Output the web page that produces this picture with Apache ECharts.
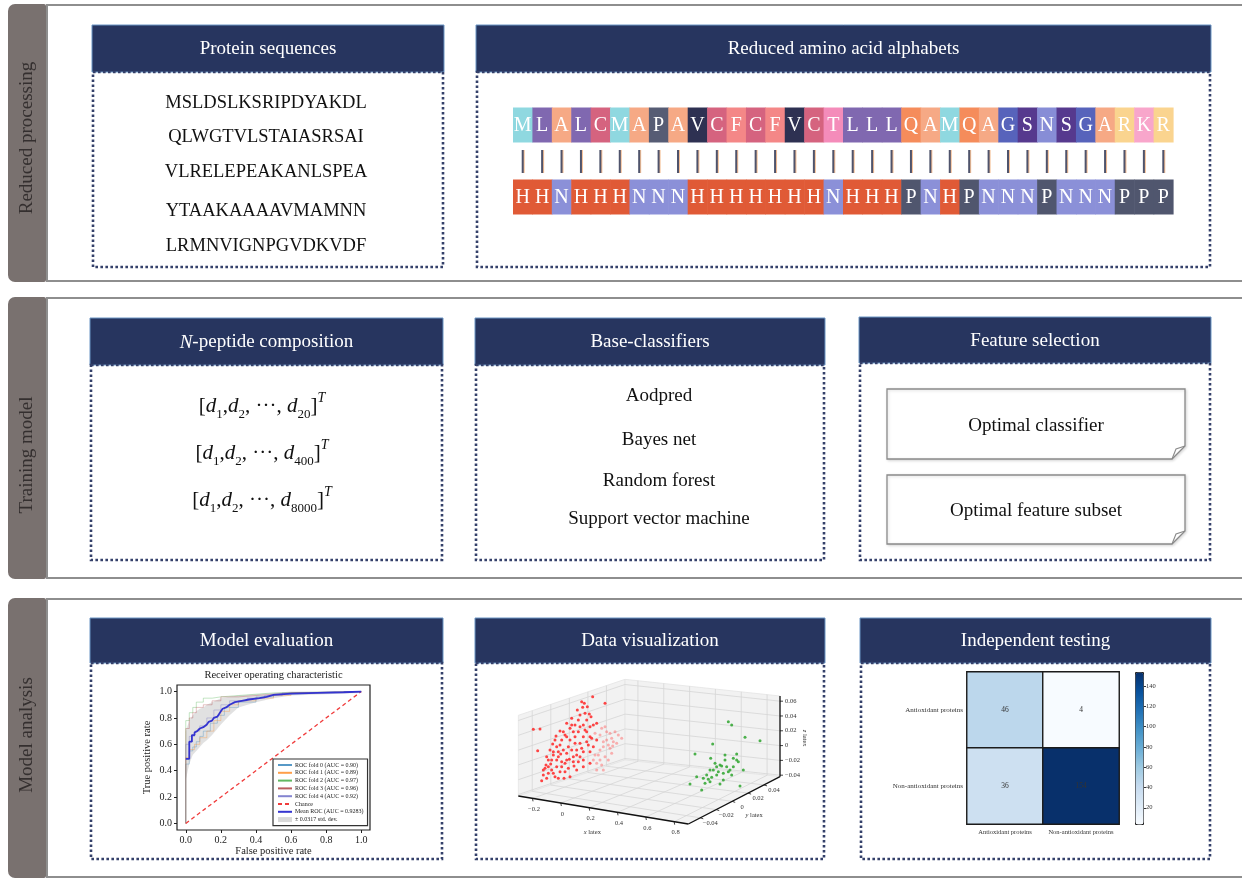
<!DOCTYPE html>
<html>
<head>
<meta charset="utf-8">
<script src="https://cdn.jsdelivr.net/npm/echarts@6/dist/echarts.min.js"></script>
<style>
  html, body { margin: 0; padding: 0; background: #fff; }
  #chart { width: 1242px; height: 879px; }
</style>
</head>
<body>
<div id="chart"></div>
<script>
const FONT = '"Liberation Serif","DejaVu Serif",serif';

// ---- text content ----
const sectionTitles = ['Reduced processing', 'Training model', 'Model analysis'];
const panelTitles = ['Protein sequences', 'Reduced amino acid alphabets', '{i|N}-peptide composition',
  'Base-classifiers', 'Feature selection', 'Model evaluation', 'Data visualization', 'Independent testing'];
const proteinSequences = ['MSLDSLKSRIPDYAKDL', 'QLWGTVLSTAIASRSAI', 'VLRELEPEAKANLSPEA', 'YTAAKAAAAVMAMNN', 'LRMNVIGNPGVDKVDF'];
const originalResidues = 'MLALCMAPAVCFCFVCTLLLQAMQAGSNSGARKR'.split('');
const reducedResidues = 'HHNHHHNNNHHHHHHHNHHHPNHPNNNPNNNPPP'.split('');
const peptideDims = ['20', '400', '8000'];
const baseClassifiers = ['Aodpred', 'Bayes net', 'Random forest', 'Support vector machine'];
const featureSelection = ['Optimal classifier', 'Optimal feature subset'];

// ---- ROC curves (5-fold CV) ----
const rocFoldAuc = [0.90, 0.89, 0.97, 0.96, 0.92];
const rocFold0 = [[0,0],[0,0.35],[0.02,0.45],[0.04,0.55],[0.06,0.58],[0.08,0.62],[0.1,0.66],[0.14,0.7],[0.18,0.76],[0.22,0.82],[0.3,0.88],[0.4,0.92],[0.5,0.96],[0.6,0.98],[0.8,0.99],[1,1]];
const rocFold1 = [[0,0],[0,0.4],[0.02,0.5],[0.05,0.56],[0.08,0.6],[0.12,0.65],[0.16,0.7],[0.2,0.78],[0.25,0.85],[0.3,0.9],[0.4,0.93],[0.5,0.95],[0.6,0.97],[0.75,0.99],[1,1]];
const rocFold2 = [[0,0],[0,0.68],[0.02,0.78],[0.04,0.84],[0.06,0.88],[0.1,0.92],[0.15,0.95],[0.2,0.96],[0.3,0.97],[0.4,0.98],[0.5,0.99],[1,1]];
const rocFold3 = [[0,0],[0,0.6],[0.02,0.72],[0.04,0.8],[0.06,0.84],[0.1,0.88],[0.15,0.9],[0.2,0.93],[0.3,0.96],[0.4,0.97],[0.5,0.98],[0.6,0.99],[1,1]];
const rocFold4 = [[0,0],[0,0.5],[0.02,0.6],[0.05,0.66],[0.08,0.7],[0.12,0.74],[0.16,0.8],[0.2,0.86],[0.25,0.9],[0.35,0.93],[0.45,0.95],[0.55,0.97],[0.7,0.99],[1,1]];
const rocMeanAuc = 0.9283;
const rocStd = 0.0317;
const rocMean = [[0,0.49],[0.02,0.49],[0.02,0.62],[0.035,0.62],[0.035,0.67],[0.05,0.67],[0.05,0.69],[0.065,0.70],[0.08,0.72],[0.1,0.73],[0.12,0.75],[0.13,0.77],[0.15,0.78],[0.16,0.80],[0.18,0.81],[0.19,0.83],[0.2,0.85],[0.21,0.87],[0.23,0.88],[0.25,0.9],[0.28,0.92],[0.32,0.93],[0.36,0.94],[0.42,0.95],[0.46,0.96],[0.5,0.975],[0.6,0.985],[0.75,0.99],[0.9,0.995],[1,1]];
const rocChance = [[0,0],[1,1]];
const rocBandX =     [0,    0.02, 0.04, 0.06, 0.08, 0.1,  0.12, 0.15, 0.2,  0.25, 0.3,  0.4,  0.5,  0.6,  0.8,  1];
const rocBandUpper = [0.70, 0.78, 0.82, 0.85, 0.87, 0.88, 0.90, 0.92, 0.95, 0.96, 0.97, 0.98, 0.99, 1,    1,    1];
const rocBandLower = [0.33, 0.45, 0.52, 0.55, 0.58, 0.61, 0.63, 0.67, 0.75, 0.82, 0.88, 0.92, 0.95, 0.97, 0.98, 0.99];
const rocTicks = [0, 0.2, 0.4, 0.6, 0.8, 1.0];

// ---- 3D embedding (projected panel coordinates) ----
const scatterXTicks = [-0.2, 0, 0.2, 0.4, 0.6, 0.8];
const scatterYTicks = [-0.04, -0.02, 0, 0.02, 0.04];
const scatterZTicks = [-0.04, -0.02, 0, 0.02, 0.04, 0.06];
const antioxidantNear = [[130,208],[150,207],[143,272],[155,362],[160,345],[165,325],[175,320],[185,300],[190,275],[170,355],[195,350],[210,335],[225,310],[230,300],[250,290],[260,270],[270,250],[280,230],[290,215],[300,200],[310,195],[320,190],[235,260],[240,240],[255,230],[265,215],[280,195],[290,180],[270,165],[285,160],[303,170],[298,162],[250,215],[220,270],[205,290],[200,300],[215,305],[230,280],[245,270],[185,330],[200,320],[215,320],[175,300],[190,285],[205,275],[210,255],[230,230],[220,215],[210,213],[240,205],[255,250],[270,290],[280,300],[300,275],[310,260],[320,240],[305,235],[290,245],[275,265],[260,285],[250,305],[235,325],[225,335],[240,350],[260,330],[280,320],[300,310],[195,240],[180,270],[170,290],[160,330],[175,340],[255,195],[270,200],[285,210],[300,230],[295,255],[280,275],[265,305],[275,125],[283,130],[308,110],[345,130],[265,180],[245,195],[225,225],[215,240],[200,260],[245,175],[230,190],[262,150],[292,140],[278,142],[188,252],[198,228],[168,315],[182,312],[212,282],[238,298],[252,318],[222,355],[190,340],[205,355]];
const antioxidantFar = [[335,205],[345,200],[350,215],[360,220],[375,215],[385,225],[395,235],[370,245],[355,255],[340,260],[330,270],[315,285],[330,300],[320,310],[335,315],[345,290],[360,265],[365,280],[380,250],[350,240],[365,235],[340,245],[330,225],[315,220],[325,285],[310,300],[355,300],[340,330],[320,330],[368,258]];
const nonAntioxidant = [[715,185],[725,195],[765,232],[810,242],[668,252],[615,282],[740,282],[662,295],[705,300],[690,315],[680,320],[695,318],[745,305],[660,330],[670,330],[650,345],[640,355],[655,358],[665,352],[680,345],[700,340],[715,335],[730,320],[725,345],[760,330],[645,370],[635,390],[600,372],[690,372],[700,360],[750,378],[740,300],[720,330],[675,310],[685,335],[710,320],[730,295],[660,365],[620,350],[705,285]];

// ---- independent test confusion matrix ----
const confusionLabels = ['Antioxidant proteins', 'Non-antioxidant proteins'];
const confusionMatrix = [[46, 4], [36, 154]];
const colorbarTicks = [20, 40, 60, 80, 100, 120, 140];

// ---- styles ----
const residueColors = { M:'#8fd8e0', L:'#8068b0', A:'#f6a985', C:'#d5637f', P:'#565c74', V:'#2e3152', F:'#f48787',
  T:'#f48cba', Q:'#f58c5b', G:'#5763bb', S:'#56398e', N:'#878dd6', R:'#fad48f', K:'#f8a6cb' };
const reducedColors = { H:'#e05a36', N:'#8b90d8', P:'#50566e' };
const blues = ['#f7fbff','#deebf7','#c6dbef','#9ecae1','#6baed6','#4292c6','#2171b5','#08519c','#08306b'];
const foldColors = ['#1f77b4', '#ff7f0e', '#2ca02c', '#a3282a', '#5b5bc0'];

// projection of the 3D box into panel units
const cubeRange = { x: [-0.3, 0.9], y: [-0.055, 0.06], z: [-0.042, 0.067] };
const cubeCorners = { fl: [85, 408], fr: [595, 492], bl: [405, 300], br: [870, 350], h: 242 };
function lerp(a, b, t) { return [a[0] + (b[0] - a[0]) * t, a[1] + (b[1] - a[1]) * t]; }
function proj3(x, y, z) {
  const u = (x - cubeRange.x[0]) / (cubeRange.x[1] - cubeRange.x[0]);
  const v = (y - cubeRange.y[0]) / (cubeRange.y[1] - cubeRange.y[0]);
  const w = (z - cubeRange.z[0]) / (cubeRange.z[1] - cubeRange.z[0]);
  const front = lerp(cubeCorners.fl, cubeCorners.fr, u);
  const back = lerp(cubeCorners.bl, cubeCorners.br, u);
  const p = lerp(front, back, v);
  return [p[0], p[1] - w * cubeCorners.h];
}
const minus = v => (v < 0 ? '\u2212' : '') + Math.abs(v);

// ---- layout ----
const sections = [
  { top: 5, bottom: 281, labelY: 138 },
  { top: 298, bottom: 578, labelY: 455 },
  { top: 599, bottom: 877, labelY: 735 }
];
const panels = [
  { x0: 92, x1: 444, y0: 25, yh: 72, y1: 267 },
  { x0: 476, x1: 1211, y0: 25, yh: 72, y1: 267 },
  { x0: 90, x1: 443, y0: 318, yh: 365, y1: 560 },
  { x0: 475, x1: 825, y0: 318, yh: 365, y1: 560 },
  { x0: 859, x1: 1211, y0: 317, yh: 363, y1: 560 },
  { x0: 90, x1: 443, y0: 618, yh: 663, y1: 859 },
  { x0: 475, x1: 825, y0: 618, yh: 663, y1: 859 },
  { x0: 860, x1: 1211, y0: 618, yh: 663, y1: 859 }
];

const graphics = [];
sections.forEach((s, i) => {
  graphics.push({ type: 'rect', z: 0, shape: { x: 47, y: s.top, width: 1240, height: s.bottom - s.top },
    style: { fill: '#fff', stroke: '#8e8e8e', lineWidth: 2 } });
  graphics.push({ type: 'rect', z: 1, shape: { x: 8, y: s.top - 1, width: 38, height: s.bottom - s.top + 2, r: [7, 2, 2, 7] },
    style: { fill: '#79716f' } });
  graphics.push({ type: 'text', z: 2, x: 27, y: s.labelY, rotation: Math.PI / 2,
    style: { text: sectionTitles[i], fontSize: 19, fontFamily: FONT, fill: '#342f2f', align: 'center', verticalAlign: 'middle' } });
});
panels.forEach((p, i) => {
  graphics.push({ type: 'rect', z: 1, shape: { x: p.x0, y: p.y0, width: p.x1 - p.x0, height: p.yh - p.y0 },
    style: { fill: '#27355f', stroke: '#6b95c4', lineWidth: 1 } });
  graphics.push({ type: 'rect', z: 1, shape: { x: p.x0 + 1, y: p.yh, width: p.x1 - p.x0 - 2, height: p.y1 - p.yh },
    style: { fill: null, stroke: '#34406a', lineWidth: 2.6, lineDash: [2.6, 2.4] } });
  graphics.push({ type: 'text', z: 2, x: (p.x0 + p.x1) / 2, y: (p.y0 + p.yh) / 2 + 1,
    style: { text: panelTitles[i], fontSize: 19, fontFamily: FONT, fill: '#fff', align: 'center', verticalAlign: 'middle',
      rich: { i: { fontStyle: 'italic', fontSize: 19, fontFamily: FONT, fill: '#fff' } } } });
});
// protein sequences
const seqY = [103, 137, 172, 211, 246];
proteinSequences.forEach((s, i) => graphics.push({ type: 'text', z: 2, x: 266, y: seqY[i],
  style: { text: s, fontSize: 18.5, fontFamily: FONT, fill: '#111', align: 'center', verticalAlign: 'middle' } }));
// N-peptide composition vectors
const vecY = [406, 453, 500];
peptideDims.forEach((n, i) => graphics.push({ type: 'text', z: 2, x: 262, y: vecY[i],
  style: { text: '[{d|d}{sub|1},{d|d}{sub|2}, \u00b7\u00b7\u00b7, {d|d}{sub|' + n + '}]{sup|T}',
    fontSize: 21, fontFamily: FONT, fill: '#111', lineHeight: 30, align: 'center', verticalAlign: 'middle',
    rich: {
      d: { fontStyle: 'italic', fontSize: 21, fontFamily: FONT, fill: '#111', lineHeight: 30, verticalAlign: 'middle' },
      sub: { fontSize: 13, fontFamily: FONT, fill: '#111', lineHeight: 13, verticalAlign: 'bottom' },
      sup: { fontStyle: 'italic', fontSize: 14, fontFamily: FONT, fill: '#111', lineHeight: 14, verticalAlign: 'top' }
    } } }));
// base classifiers
const clfY = [396, 440, 481, 519];
baseClassifiers.forEach((c, i) => graphics.push({ type: 'text', z: 2, x: 659, y: clfY[i],
  style: { text: c, fontSize: 19, fontFamily: FONT, fill: '#111', align: 'center', verticalAlign: 'middle' } }));
// feature selection cards (folded corner)
const cards = [{ y0: 389, y1: 459 }, { y0: 475, y1: 544 }];
cards.forEach((c, i) => {
  const x0 = 887, x1 = 1185, f = 13;
  graphics.push({ type: 'polygon', z: 2, shape: { points: [[x0, c.y0], [x1, c.y0], [x1, c.y1 - f], [x1 - f, c.y1], [x0, c.y1]] },
    style: { fill: '#fff', stroke: '#8a8a8a', lineWidth: 1.3, shadowBlur: 3, shadowColor: 'rgba(0,0,0,0.15)', shadowOffsetX: 1, shadowOffsetY: 1 } });
  graphics.push({ type: 'polyline', z: 3, shape: { points: [[x1, c.y1 - f], [x1 - f + 4, c.y1 - f + 3], [x1 - f, c.y1]] },
    style: { fill: null, stroke: '#8a8a8a', lineWidth: 1.1 } });
  graphics.push({ type: 'text', z: 3, x: 1036, y: (c.y0 + c.y1) / 2 + 2,
    style: { text: featureSelection[i], fontSize: 19, fontFamily: FONT, fill: '#111', align: 'center', verticalAlign: 'middle' } });
});
// ROC title
graphics.push({ type: 'text', z: 3, x: 273.5, y: 675,
  style: { text: 'Receiver operating characteristic', fontSize: 10.5, fontFamily: FONT, fill: '#222', align: 'center', verticalAlign: 'middle' } });

// ---- renderers ----
function residueRenderer(list, colors) {
  return function (params, api) {
    const c = api.coord([api.value(0), api.value(1)]);
    const w = api.size([1, 1])[0];
    const h = 35;
    const r = list[params.dataIndex];
    return { type: 'group', children: [
      { type: 'rect', shape: { x: c[0] - w / 2, y: c[1] - h / 2, width: w + 0.6, height: h }, style: { fill: colors[r] } },
      { type: 'text', x: c[0], y: c[1] + 1, style: { text: r, fill: '#fff', fontSize: 20, fontFamily: FONT, align: 'center', verticalAlign: 'middle' } }
    ] };
  };
}
function linkRenderer(params, api) {
  const c = api.coord([api.value(0), api.value(1)]);
  return { type: 'line', shape: { x1: c[0], y1: c[1] - 11, x2: c[0], y2: c[1] + 12 },
    style: { stroke: '#4f546c', lineWidth: 2, shadowColor: 'rgba(240,150,80,0.6)', shadowOffsetX: 1 } };
}
function cubeRenderer(params, api) {
  const X = cubeRange.x, Y = cubeRange.y, Z = cubeRange.z;
  const P = (x, y, z) => api.coord(proj3(x, y, z));
  const kids = [];
  const pane = pts => kids.push({ type: 'polygon', shape: { points: pts }, style: { fill: '#f2f2f2', stroke: '#e4e4e4', lineWidth: 0.8 } });
  pane([P(X[0], Y[0], Z[0]), P(X[0], Y[1], Z[0]), P(X[0], Y[1], Z[1]), P(X[0], Y[0], Z[1])]);
  pane([P(X[0], Y[1], Z[0]), P(X[1], Y[1], Z[0]), P(X[1], Y[1], Z[1]), P(X[0], Y[1], Z[1])]);
  pane([P(X[0], Y[0], Z[0]), P(X[1], Y[0], Z[0]), P(X[1], Y[1], Z[0]), P(X[0], Y[1], Z[0])]);
  const gl = (a, b) => kids.push({ type: 'line', shape: { x1: a[0], y1: a[1], x2: b[0], y2: b[1] }, style: { stroke: '#d6d6d6', lineWidth: 0.8 } });
  scatterXTicks.forEach(x => { gl(P(x, Y[0], Z[0]), P(x, Y[1], Z[0])); gl(P(x, Y[1], Z[0]), P(x, Y[1], Z[1])); });
  scatterYTicks.forEach(y => { gl(P(X[0], y, Z[0]), P(X[1], y, Z[0])); gl(P(X[0], y, Z[0]), P(X[0], y, Z[1])); });
  scatterZTicks.forEach(z => { gl(P(X[0], Y[1], z), P(X[1], Y[1], z)); gl(P(X[0], Y[0], z), P(X[0], Y[1], z)); });
  const ax = (a, b) => kids.push({ type: 'line', shape: { x1: a[0], y1: a[1], x2: b[0], y2: b[1] }, style: { stroke: '#111', lineWidth: 1.3 } });
  ax(P(X[0], Y[0], Z[0]), P(X[1], Y[0], Z[0]));
  ax(P(X[1], Y[0], Z[0]), P(X[1], Y[1], Z[0]));
  ax(P(X[1], Y[1], Z[0]), P(X[1], Y[1], Z[1]));
  const lbl = (pt, dx, dy, text, align) => kids.push({ type: 'text', x: pt[0] + dx, y: pt[1] + dy,
    style: { text, fontSize: 6.5, fontFamily: FONT, fill: '#333', align, verticalAlign: 'middle' } });
  const tick = (pt, dx, dy) => kids.push({ type: 'line', shape: { x1: pt[0], y1: pt[1], x2: pt[0] + dx, y2: pt[1] + dy }, style: { stroke: '#111', lineWidth: 0.8 } });
  scatterXTicks.forEach(x => { const p = P(x, Y[0], Z[0]); tick(p, 0.5, 3); lbl(p, 1.5, 11, minus(x.toFixed(1)), 'center'); });
  scatterYTicks.forEach(y => { const p = P(X[1], y, Z[0]); tick(p, 3, 1); lbl(p, 10, 5.5, minus(y.toFixed(2)), 'center'); });
  scatterZTicks.forEach(z => { const p = P(X[1], Y[1], z); tick(p, 3, 0); lbl(p, 5, 0, minus(z.toFixed(2)), 'left'); });
  const ital = { i: { fontStyle: 'italic', fontSize: 6.5, fontFamily: FONT, fill: '#333' } };
  const xl = P((X[0] + X[1]) / 2, Y[0], Z[0]);
  kids.push({ type: 'text', x: xl[0] - 11, y: xl[1] + 22, style: { text: '{i|x} latex', fontSize: 6.5, fontFamily: FONT, fill: '#333', align: 'center', verticalAlign: 'middle', rich: ital } });
  const yl = P(X[1], 0, Z[0]);
  kids.push({ type: 'text', x: yl[0] + 22, y: yl[1] + 14, style: { text: '{i|y} latex', fontSize: 6.5, fontFamily: FONT, fill: '#333', align: 'center', verticalAlign: 'middle', rich: ital } });
  const zl = P(X[1], Y[1], 0.01);
  kids.push({ type: 'text', x: zl[0] + 25, y: zl[1], rotation: -Math.PI / 2, style: { text: '{i|z} latex', fontSize: 6.5, fontFamily: FONT, fill: '#333', align: 'center', verticalAlign: 'middle', rich: ital } });
  return { type: 'group', children: kids };
}

// ---- series ----
const heatData = [];
confusionMatrix.forEach((row, r) => row.forEach((v, c) => heatData.push([c, r, v])));
const foldNames = rocFoldAuc.map((a, i) => 'ROC fold ' + i + ' (AUC = ' + a.toFixed(2) + ')');
const meanName = 'Mean ROC (AUC = ' + rocMeanAuc.toFixed(4) + ')';
const bandName = '\u00b1 ' + rocStd.toFixed(4) + ' std. dev.';
const folds = [rocFold0, rocFold1, rocFold2, rocFold3, rocFold4];

const series = [];
series.push({ type: 'custom', name: bandName, xAxisIndex: 0, yAxisIndex: 0, data: [[0, 0]], z: 3, silent: true,
  itemStyle: { color: '#d6d6d6' },
  renderItem: (params, api) => {
    const top = rocBandX.map((x, i) => api.coord([x, rocBandUpper[i]]));
    const bot = rocBandX.map((x, i) => api.coord([x, rocBandLower[i]])).reverse();
    return { type: 'polygon', shape: { points: top.concat(bot) }, style: { fill: '#c4c4c4', opacity: 0.5 } };
  } });
folds.forEach((f, i) => series.push({ type: 'line', name: foldNames[i], xAxisIndex: 0, yAxisIndex: 0, data: f, step: 'start',
  symbol: 'none', z: 4, lineStyle: { width: 1, color: foldColors[i], opacity: 0.28 }, itemStyle: { color: foldColors[i] } }));
series.push({ type: 'line', name: 'Chance', xAxisIndex: 0, yAxisIndex: 0, data: rocChance, symbol: 'none', z: 5,
  lineStyle: { width: 1.3, type: [4, 3], color: '#f03c3c' }, itemStyle: { color: '#f03c3c' } });
series.push({ type: 'line', name: meanName, xAxisIndex: 0, yAxisIndex: 0, data: rocMean, symbol: 'none', z: 6,
  lineStyle: { width: 1.8, color: '#3434d0' }, itemStyle: { color: '#3434d0' } });

series.push({ type: 'custom', xAxisIndex: 1, yAxisIndex: 1, data: [[0, 0]], z: 3, silent: true, renderItem: cubeRenderer });
series.push({ type: 'scatter', xAxisIndex: 1, yAxisIndex: 1, data: antioxidantFar, symbolSize: 3, z: 4, silent: true,
  itemStyle: { color: '#ff5a5a', opacity: 0.45 } });
series.push({ type: 'scatter', xAxisIndex: 1, yAxisIndex: 1, data: antioxidantNear, symbolSize: 3, z: 5, silent: true,
  itemStyle: { color: '#ff2626', opacity: 0.85 } });
series.push({ type: 'scatter', xAxisIndex: 1, yAxisIndex: 1, data: nonAntioxidant, symbolSize: 3, z: 5, silent: true,
  itemStyle: { color: '#2ea52e', opacity: 0.85 } });

const heatIndex = series.length;
series.push({ type: 'heatmap', xAxisIndex: 2, yAxisIndex: 2, data: heatData, silent: true, z: 3,
  label: { show: true, fontSize: 7.5, fontFamily: FONT, color: '#333' },
  itemStyle: { borderColor: '#1b1b1b', borderWidth: 1.4 } });
series.push({ type: 'scatter', xAxisIndex: 3, yAxisIndex: 3, data: [], silent: true });

series.push({ type: 'custom', xAxisIndex: 4, yAxisIndex: 4, silent: true, z: 3, data: originalResidues.map((_, i) => [i, 0]),
  renderItem: residueRenderer(originalResidues, residueColors) });
series.push({ type: 'custom', xAxisIndex: 4, yAxisIndex: 4, silent: true, z: 3, data: originalResidues.map((_, i) => [i, 1]),
  renderItem: linkRenderer });
series.push({ type: 'custom', xAxisIndex: 4, yAxisIndex: 4, silent: true, z: 3, data: reducedResidues.map((_, i) => [i, 2]),
  renderItem: residueRenderer(reducedResidues, reducedColors) });

const axisFont = { fontFamily: FONT, color: '#222' };
const hidden = { show: false };
const offAxisLine = { show: false, onZero: false };

const option = {
  animation: false,
  backgroundColor: '#fff',
  graphic: { elements: graphics },
  grid: [
    { left: 177, top: 685, width: 193, height: 145, show: true, z: 2, borderColor: '#222', borderWidth: 1.2, backgroundColor: 'rgba(255,255,255,0)' },
    { left: 490, top: 660, width: 340, height: 200 },
    { left: 967, top: 672, width: 152, height: 152 },
    { left: 1135, top: 672, width: 8, height: 152 },
    { left: 513, top: 107, width: 660, height: 108 }
  ],
  xAxis: [
    { type: 'value', gridIndex: 0, min: -0.05, max: 1.05, splitLine: hidden, axisLine: offAxisLine, z: 3,
      axisTick: { show: true, length: 3, customValues: rocTicks, lineStyle: { color: '#222' } },
      axisLabel: Object.assign({ customValues: rocTicks, formatter: v => v.toFixed(1), fontSize: 10, margin: 5 }, axisFont),
      name: 'False positive rate', nameLocation: 'middle', nameGap: 15, nameTextStyle: Object.assign({ fontSize: 10.5 }, axisFont) },
    { type: 'value', gridIndex: 1, min: 0, max: 1020, show: false },
    { type: 'category', gridIndex: 2, data: confusionLabels, axisLine: hidden, axisTick: hidden, z: 3,
      axisLabel: { interval: 0, fontSize: 6.5, fontFamily: FONT, color: '#333', margin: 5 } },
    { type: 'value', gridIndex: 3, min: 0, max: 1, show: false },
    { type: 'category', gridIndex: 4, data: originalResidues.map((_, i) => String(i)), show: false }
  ],
  yAxis: [
    { type: 'value', gridIndex: 0, min: -0.05, max: 1.05, splitLine: hidden, axisLine: offAxisLine, z: 3,
      axisTick: { show: true, length: 3, customValues: rocTicks, lineStyle: { color: '#222' } },
      axisLabel: Object.assign({ customValues: rocTicks, formatter: v => v.toFixed(1), fontSize: 10, margin: 5 }, axisFont),
      name: 'True positive rate', nameLocation: 'middle', nameGap: 24, nameTextStyle: Object.assign({ fontSize: 10.5 }, axisFont) },
    { type: 'value', gridIndex: 1, min: 0, max: 600, inverse: true, show: false },
    { type: 'category', gridIndex: 2, data: confusionLabels, inverse: true, axisLine: hidden, axisTick: hidden, z: 3,
      axisLabel: { interval: 0, fontSize: 7, fontFamily: FONT, color: '#333', margin: 4 } },
    { type: 'value', gridIndex: 3, min: 4, max: 154, position: 'right', splitLine: hidden, axisLine: offAxisLine, z: 3,
      axisTick: { show: true, length: 3, customValues: colorbarTicks, lineStyle: { color: '#333' } },
      axisLabel: { customValues: colorbarTicks, fontSize: 6.5, fontFamily: FONT, color: '#333', margin: 3 } },
    { type: 'category', gridIndex: 4, data: ['original', 'link', 'reduced'], inverse: true, show: false }
  ],
  legend: {
    data: foldNames.map(n => ({ name: n, lineStyle: { opacity: 0.75 } })).concat(['Chance', meanName,
      { name: bandName, icon: 'rect', itemStyle: { opacity: 1, color: '#d9d9d9' } }]),
    orient: 'vertical', left: 273, top: 759, itemWidth: 14, itemHeight: 5, itemGap: 1.8, z: 10,
    padding: [3, 4, 3, 4], backgroundColor: '#fff', borderColor: '#333', borderWidth: 1.2,
    itemStyle: { opacity: 0 },
    textStyle: { fontSize: 6, fontFamily: FONT, color: '#222', padding: [0, 0, 0, -2] },
    selectedMode: false
  },
  visualMap: [{
    type: 'continuous', seriesIndex: heatIndex, min: 4, max: 154, left: 1135, top: 672, z: 4,
    itemWidth: 8, itemHeight: 152, calculable: false, text: ['', ''], padding: 0,
    borderWidth: 1, borderColor: '#222', hoverLink: false, inRange: { color: blues }
  }],
  series
};

const chart = echarts.init(document.getElementById('chart'), null, { renderer: 'canvas' });
chart.setOption(option);
</script>
</body>
</html>
